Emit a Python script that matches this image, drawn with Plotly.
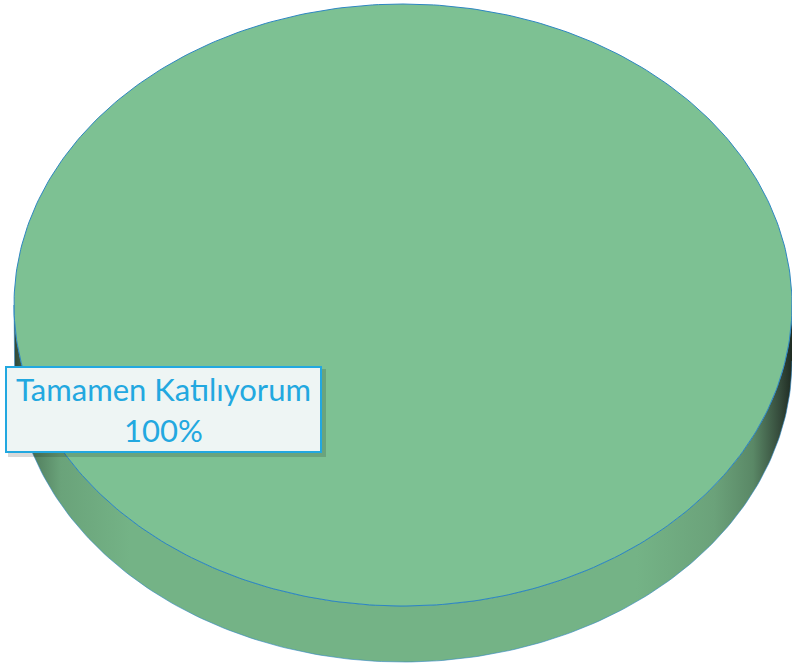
import numpy as np
import plotly.graph_objects as go

# ---- data ----
labels = ["Tamamen Katılıyorum"]
values = [100]
colors = ["#7DC193"]

W, H = 792, 664
cx, cy, rx, ry, depth = 403, 305, 389, 301, 56

fig = go.Figure()

# side wall (lower half of ellipse extruded down)
t = np.linspace(0, np.pi, 200)
xt = cx + rx * np.cos(t)
yt = cy + ry * np.sin(t)
xw = np.concatenate([xt, xt[::-1]])
yw = np.concatenate([yt, (yt + depth)[::-1]])
fig.add_trace(go.Scatter(
    x=xw, y=yw, mode="lines", fill="toself",
    line=dict(color="rgba(46,134,193,0.6)", width=1),
    fillgradient=dict(type="horizontal", colorscale=[
        [0.0, "#2f4535"], [0.02, "#4f7a5b"], [0.06, "#6aa37a"], [0.15, "#74b386"],
        [0.80, "#74b386"], [0.90, "#6ba27a"], [0.95, "#5a8866"], [0.985, "#34493a"], [1.0, "#1f2c23"]]),
    hoverinfo="skip", showlegend=False))

# top face: slices from values
total = sum(values)
a0 = -np.pi / 2
for lab, v, c in zip(labels, values, colors):
    frac = v / total
    a1 = a0 + 2 * np.pi * frac
    ang = np.linspace(a0, a1, 400)
    px = cx + rx * np.cos(ang)
    py = cy + ry * np.sin(ang)
    if frac < 1:
        px = np.concatenate([[cx], px, [cx]])
        py = np.concatenate([[cy], py, [cy]])
    fig.add_trace(go.Scatter(
        x=px, y=py, mode="lines", fill="toself", fillcolor=c,
        line=dict(color="#2E86C1", width=1), name=lab,
        hoverinfo="skip", showlegend=False))
    a0 = a1

# label with shadow
lab_text = f"{labels[0]}<br>{values[0] / total * 100:.0f}%"
fig.add_shape(type="rect", x0=8, x1=326, y0=369, y1=457, xref="x", yref="y",
              fillcolor="rgba(0,0,0,0.15)", line=dict(width=0), layer="above")
fig.add_annotation(x=163.5, y=409.5, xref="x", yref="y", text=lab_text, showarrow=False,
                   font=dict(family="Lato, Noto Sans, sans-serif", size=31, color="#22A8E0"),
                   bgcolor="#EEF5F4", bordercolor="#22A8E0", borderwidth=2, borderpad=4,
                   width=305, height=75, align="center")

fig.update_xaxes(range=[0, W], visible=False, fixedrange=True)
fig.update_yaxes(range=[H, 0], visible=False, fixedrange=True)
fig.update_layout(width=W, height=H, margin=dict(l=0, r=0, t=0, b=0),
                  paper_bgcolor="white", plot_bgcolor="white", showlegend=False)

fig.write_html("out.html", config={"displayModeBar": False},
               post_script="document.body.style.margin='0';document.body.style.overflow='hidden';")
